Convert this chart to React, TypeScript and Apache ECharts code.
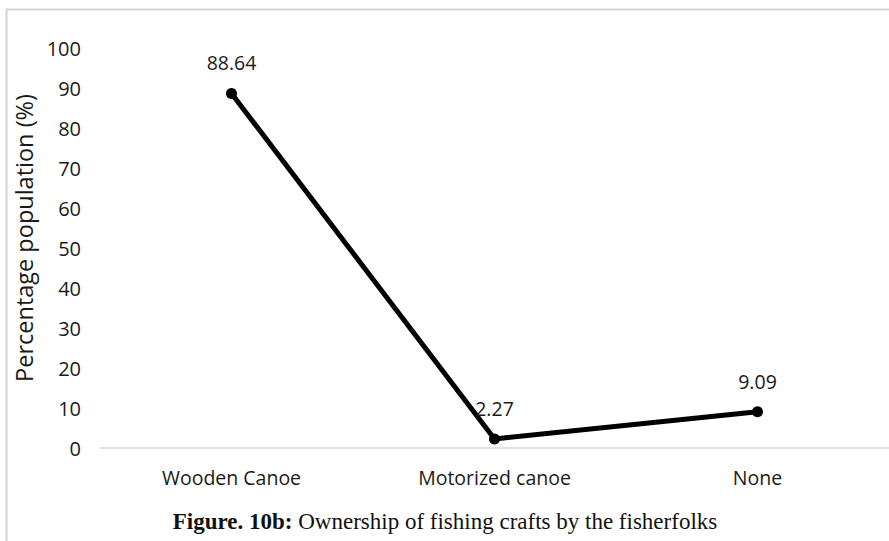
import React, { useEffect, useRef } from "react";
import * as echarts from "echarts";

const categories = ["Wooden Canoe", "Motorized canoe", "None"];
const values = [88.64, 2.27, 9.09];
const yTicks = { min: 0, max: 100, interval: 10 };
const yAxisTitle = "Percentage population (%)";
const captionBold = "Figure. 10b:";
const captionRest = " Ownership of fishing crafts by the fisherfolks";

const SANS = "'Open Sans', 'Noto Sans', sans-serif";
const SERIF = "'Liberation Serif', 'DejaVu Serif', serif";

export default function App() {
  const ref = useRef<HTMLDivElement>(null);

  useEffect(() => {
    if (!ref.current) return;
    const chart = echarts.init(ref.current, undefined, { renderer: "svg" });
    chart.setOption({
      animation: false,
      backgroundColor: "#ffffff",
      grid: { left: 100, right: -6, top: 48, bottom: 93, containLabel: false },
      xAxis: {
        type: "category",
        data: categories,
        boundaryGap: true,
        axisLine: { show: true, lineStyle: { color: "#d9d9d9", width: 1.5 } },
        axisTick: { show: false },
        axisLabel: { color: "#1a1a1a", fontFamily: SANS, fontSize: 19.5, margin: 19 },
      },
      yAxis: {
        type: "value",
        min: yTicks.min,
        max: yTicks.max,
        interval: yTicks.interval,
        axisLine: { show: false },
        axisTick: { show: false },
        splitLine: { show: false },
        axisLabel: { color: "#1a1a1a", fontFamily: SANS, fontSize: 20, margin: 19 },
        name: yAxisTitle,
        nameLocation: "middle",
        nameGap: 62,
        nameRotate: 90,
        nameTextStyle: {
          color: "#1a1a1a",
          fontFamily: SANS,
          fontSize: 23.5,
          padding: [0, 0, 0, 20],
        },
      },
      series: [
        {
          type: "line",
          data: values,
          symbol: "circle",
          symbolSize: 11,
          lineStyle: { color: "#000", width: 5 },
          itemStyle: { color: "#000" },
          label: {
            show: true,
            position: "top",
            distance: 15,
            color: "#1a1a1a",
            fontFamily: SANS,
            fontSize: 19.5,
            formatter: (p: any) => p.value.toFixed(2),
          },
        },
      ],
      graphic: [
        {
          type: "rect",
          shape: { x: 6.5, y: 9.5, width: 900, height: 600 },
          style: { fill: "none", stroke: "#d4d4d4", lineWidth: 2 },
          silent: true,
        },
        {
          type: "text",
          x: 445,
          y: 521,
          style: {
            text: `{b|${captionBold}}{r|${captionRest}}`,
            align: "center",
            verticalAlign: "middle",
            rich: {
              b: { fontFamily: SERIF, fontSize: 23, fontWeight: "bold", fill: "#111", color: "#111" },
              r: { fontFamily: SERIF, fontSize: 23, fill: "#111", color: "#111" },
            },
          },
        },
      ],
    });
    return () => chart.dispose();
  }, []);

  return (
    <div
      ref={ref}
      style={{ position: "fixed", left: 0, top: 0, width: 889, height: 541 }}
    />
  );
}
